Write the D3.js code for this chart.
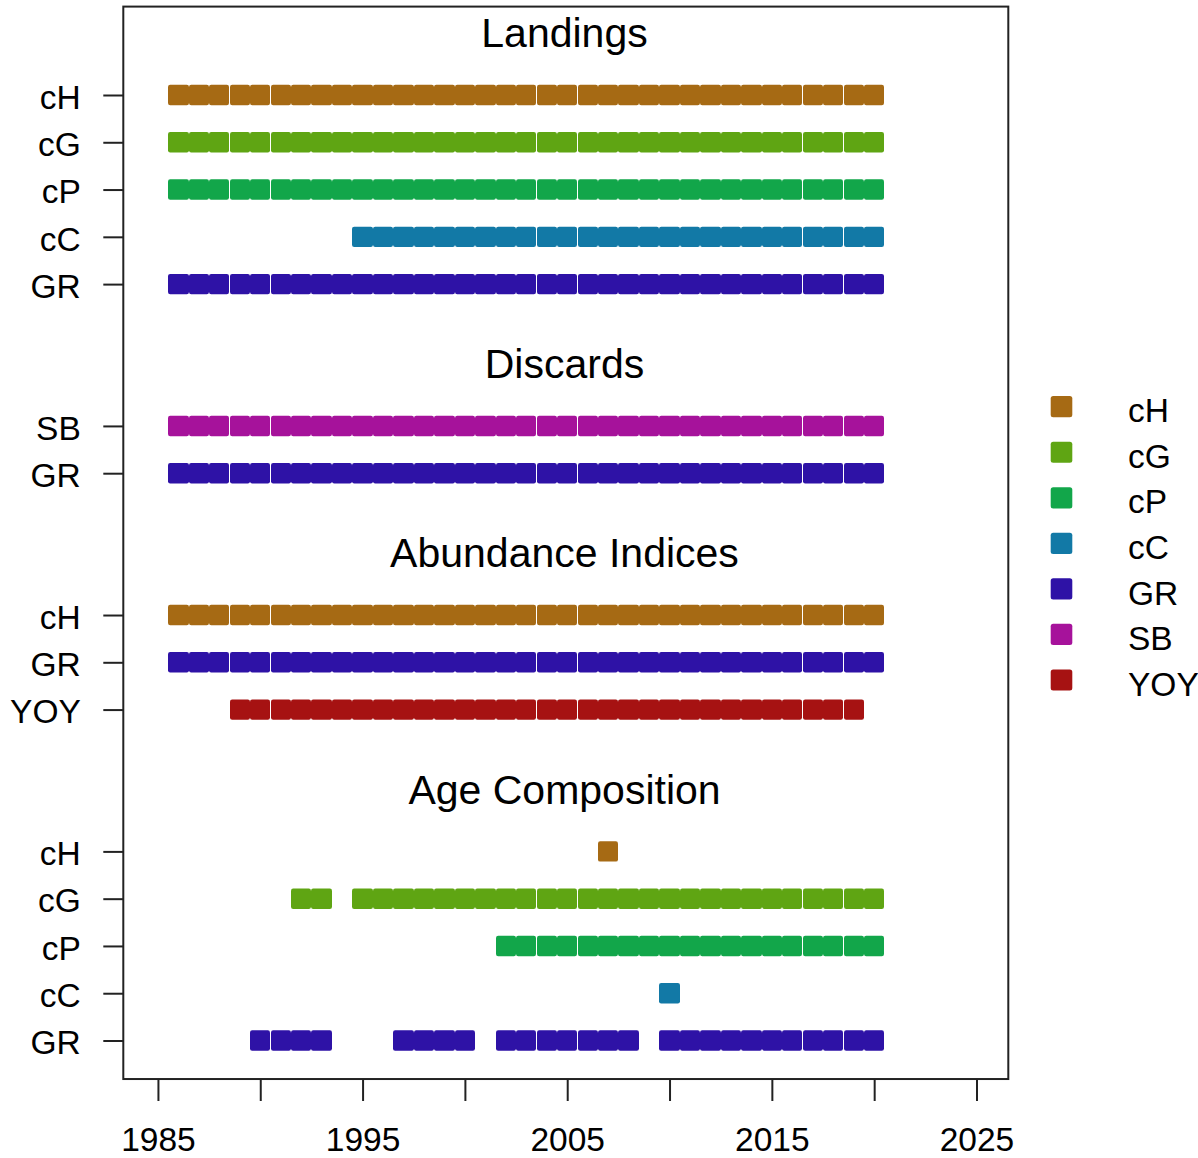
<!DOCTYPE html>
<html>
<head>
<meta charset="utf-8">
<script src="https://cdn.jsdelivr.net/npm/d3@7"></script>
<style>
  html, body { margin: 0; padding: 0; background: #fff; overflow: hidden; }
  svg { display: block; }
  text { font-family: "Liberation Sans", Arial, sans-serif; fill: #000; }
</style>
</head>
<body>
<svg id="chart" width="1198" height="1158"></svg>
<script>
// ---------------- DATA ----------------
const fleets = ["cH", "cG", "cP", "cC", "GR", "SB", "YOY"];
const fleetColors = ["#A66A14", "#5FA513", "#12A64A", "#1279A6", "#2E12A6", "#A6129B", "#A61212"];

const sectionTitles = ["Landings", "Discards", "Abundance Indices", "Age Composition"];

const xTicks = [1985, 1990, 1995, 2000, 2005, 2010, 2015, 2020, 2025];
const xTickLabels = ["1985", "", "1995", "", "2005", "", "2015", "", "2025"];

const allYears = [1986,1987,1988,1989,1990,1991,1992,1993,1994,1995,1996,1997,1998,1999,2000,
                  2001,2002,2003,2004,2005,2006,2007,2008,2009,2010,2011,2012,2013,2014,2015,
                  2016,2017,2018,2019,2020];

// Landings
const landingsFleets = ["cH", "cG", "cP", "cC", "GR"];
const landings_cH = allYears;
const landings_cG = allYears;
const landings_cP = allYears;
const landings_cC = [1995,1996,1997,1998,1999,2000,2001,2002,2003,2004,2005,2006,2007,2008,
                     2009,2010,2011,2012,2013,2014,2015,2016,2017,2018,2019,2020];
const landings_GR = allYears;

// Discards
const discardsFleets = ["SB", "GR"];
const discards_SB = allYears;
const discards_GR = allYears;

// Abundance indices
const abundanceFleets = ["cH", "GR", "YOY"];
const abundance_cH = allYears;
const abundance_GR = allYears;
const abundance_YOY = [1989,1990,1991,1992,1993,1994,1995,1996,1997,1998,1999,2000,2001,2002,
                       2003,2004,2005,2006,2007,2008,2009,2010,2011,2012,2013,2014,2015,2016,
                       2017,2018,2019];

// Age composition
const ageFleets = ["cH", "cG", "cP", "cC", "GR"];
const age_cH = [2007];
const age_cG = [1992,1993,1995,1996,1997,1998,1999,2000,2001,2002,2003,2004,2005,2006,2007,
                2008,2009,2010,2011,2012,2013,2014,2015,2016,2017,2018,2019,2020];
const age_cP = [2002,2003,2004,2005,2006,2007,2008,2009,2010,2011,2012,2013,2014,2015,2016,
                2017,2018,2019,2020];
const age_cC = [2010];
const age_GR = [1990,1991,1992,1993,1997,1998,1999,2000,2002,2003,2004,2005,2006,2007,2008,
                2010,2011,2012,2013,2014,2015,2016,2017,2018,2019,2020];

// ---------------- BUILD ----------------
const sectionFleets = [landingsFleets, discardsFleets, abundanceFleets, ageFleets];
const sectionYears = [
  [landings_cH, landings_cG, landings_cP, landings_cC, landings_GR],
  [discards_SB, discards_GR],
  [abundance_cH, abundance_GR, abundance_YOY],
  [age_cH, age_cG, age_cP, age_cC, age_GR]
];
const colorOf = d3.scaleOrdinal().domain(fleets).range(fleetColors);

// assign row indices: sections separated by a title row + blank row
const rows = [];
const titles = [];
let r = 0;
sectionTitles.forEach((t, si) => {
  titles.push({ title: t, row: r - 1 });
  sectionFleets[si].forEach((f, fi) => {
    rows.push({ label: f, row: r, years: sectionYears[si][fi] });
    r++;
  });
  r += 2;
});
const lastRow = r - 3;

// ---------------- SCALES ----------------
const svg = d3.select("#chart");
const x = d3.scaleLinear().domain([1985, 2025]).range([157.934, 976.494]);
const y = d3.scaleLinear().domain([0, lastRow]).range([95, 1040.5]);

const plotLeft = 123.3, plotRight = 1008.3;
const plotTop = y(-1.87), plotBottom = y(lastRow + 0.815);

// ---------------- MARKS ----------------
const halfW = 10.172, sqH = 20.4;
const gMarks = svg.append("g");
rows.forEach(rw => {
  gMarks.selectAll(null)
    .data(rw.years)
    .enter().append("rect")
    .attr("x", d => Math.round(x(d) - halfW))
    .attr("width", d => Math.round(x(d) + halfW) - Math.round(x(d) - halfW))
    .attr("y", y(rw.row) - sqH / 2)
    .attr("height", sqH)
    .attr("rx", 2.2).attr("ry", 2.2)
    .attr("fill", colorOf(rw.label));
});

// ---------------- FRAME ----------------
svg.append("rect")
  .attr("x", plotLeft).attr("y", plotTop)
  .attr("width", plotRight - plotLeft).attr("height", plotBottom - plotTop)
  .attr("fill", "none").attr("stroke", "#222").attr("stroke-width", 2);

// ---------------- X AXIS ----------------
const xAxis = d3.axisBottom(x)
  .tickValues(xTicks)
  .tickFormat((d, i) => xTickLabels[i])
  .tickSize(22)
  .tickPadding(30);
const gx = svg.append("g").attr("transform", `translate(0,${plotBottom})`).call(xAxis);
gx.select(".domain").remove();
gx.selectAll(".tick line").attr("stroke", "#222").attr("stroke-width", 2);
gx.selectAll(".tick text")
  .attr("font-size", 33.5)
  .attr("dy", null)
  .attr("y", 72)
  .attr("fill", "#000");

// ---------------- Y AXIS ----------------
const yAxis = d3.axisLeft(y)
  .tickValues(rows.map(d => d.row))
  .tickFormat((d, i) => rows[i].label)
  .tickSize(20)
  .tickPadding(22);
const gy = svg.append("g").attr("transform", `translate(${plotLeft},0)`).call(yAxis);
gy.select(".domain").remove();
gy.selectAll(".tick line").attr("stroke", "#222").attr("stroke-width", 2);
gy.selectAll(".tick text")
  .attr("font-size", 33.5)
  .attr("dy", null)
  .attr("y", 13.3)
  .attr("x", -42.5)
  .attr("fill", "#000");

// ---------------- TITLES ----------------
svg.append("g").selectAll("text")
  .data(titles).enter().append("text")
  .attr("x", 564.5)
  .attr("y", d => y(d.row) - 0.5)
  .attr("text-anchor", "middle")
  .attr("font-size", 41)
  .text(d => d.title);

// ---------------- LEGEND ----------------
const legY = d3.scalePoint().domain(fleets).range([406.7, 680]);
const gl = svg.append("g");
gl.selectAll("rect").data(fleets).enter().append("rect")
  .attr("x", 1061.5 - 10.8).attr("width", 21.6)
  .attr("y", d => legY(d) - 10.6).attr("height", 21.2)
  .attr("rx", 2.5).attr("ry", 2.5)
  .attr("fill", d => colorOf(d));
gl.selectAll("text").data(fleets).enter().append("text")
  .attr("x", 1128)
  .attr("y", d => legY(d) + 15.6)
  .attr("font-size", 33.5)
  .text(d => d);
</script>
</body>
</html>
